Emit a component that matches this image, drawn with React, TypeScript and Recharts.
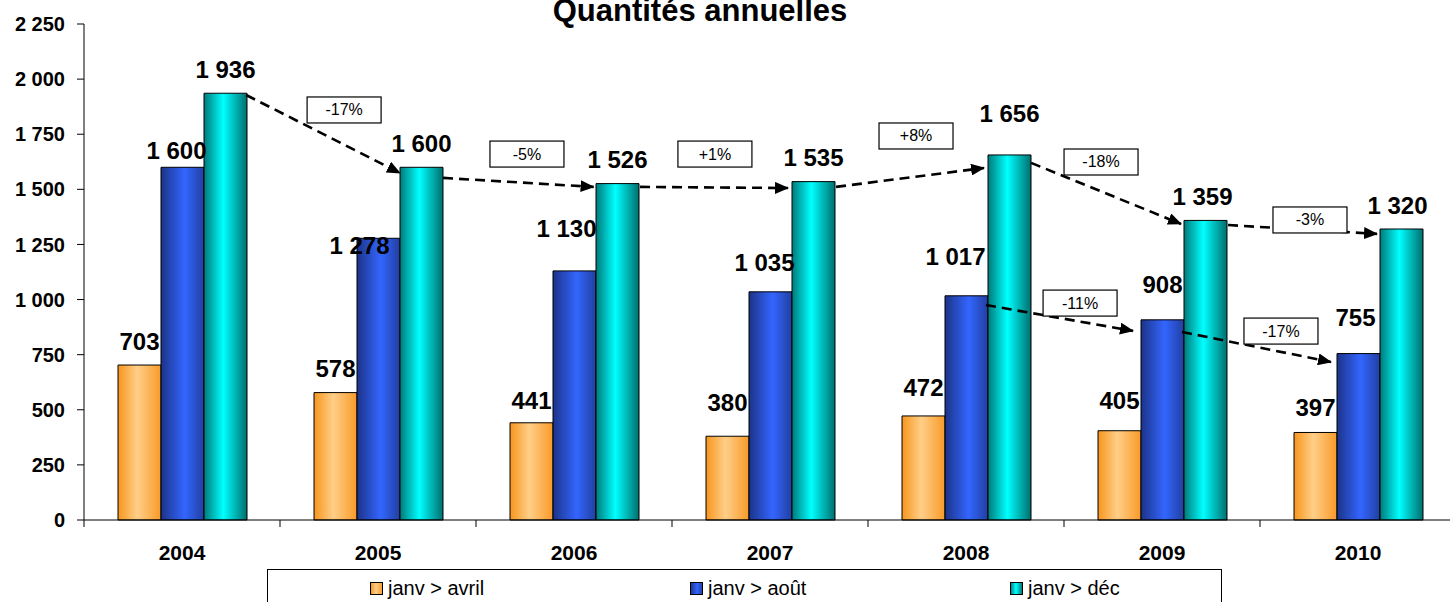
import { BarChart, Bar, XAxis, YAxis, Legend, LabelList, ReferenceLine, ScatterChart, Scatter } from 'recharts';

const years = ['2004', '2005', '2006', '2007', '2008', '2009', '2010'];
const janvAvril = [703, 578, 441, 380, 472, 405, 397];
const janvAout = [1600, 1278, 1130, 1035, 1017, 908, 755];
const janvDec = [1936, 1600, 1526, 1535, 1656, 1359, 1320];
const yTicks = [0, 250, 500, 750, 1000, 1250, 1500, 1750, 2000, 2250];

// label nudges (px) for the value labels, as hand-placed in the original
const avrilNudge = [[0, 0], [0, 0], [0, 2], [0, -10], [0, -4], [0, -6], [0, -1]];
const aoutNudge = [[-6, 7], [-19, 31], [-8, -18], [-6, -5], [-11, -15], [0, -11], [-3, -12]];
const decNudge = [[0, 0], [0, 0], [0, 0], [0, 0], [0, -17], [-3, 0], [-4, 0]];

// evolution arrows, in data units (x = position along the year axis, 0..7)
const arrows = [
  { x1: 0.827, y1: 1928, x2: 1.612, y2: 1574 },
  { x1: 1.832, y1: 1552, x2: 2.6, y2: 1511 },
  { x1: 2.837, y1: 1511, x2: 3.592, y2: 1506 },
  { x1: 3.837, y1: 1511, x2: 4.592, y2: 1597 },
  { x1: 4.832, y1: 1620, x2: 5.597, y2: 1343 },
  { x1: 5.837, y1: 1338, x2: 6.597, y2: 1298 },
  { x1: 4.602, y1: 975, x2: 5.352, y2: 858 },
  { x1: 5.602, y1: 853, x2: 6.362, y2: 717 },
];
const changeLabels = ['-17%', '-5%', '+1%', '+8%', '-18%', '-3%', '-11%', '-17%'];
const changeX = [1.327, 2.26, 3.219, 4.245, 5.189, 6.255, 5.082, 6.107];
const changeY = [1860, 1660, 1660, 1742, 1624, 1361, 984, 857];

const data = years.map((year, i) => ({
  year,
  avril: janvAvril[i],
  aout: janvAout[i],
  dec: janvDec[i],
}));

const boxes = changeLabels.map((label, i) => ({ label, x: changeX[i], y: changeY[i] }));

const series = [
  { key: 'avril', name: 'janv > avril', fill: 'url(#gOrange)', nudge: avrilNudge },
  { key: 'aout', name: 'janv > août', fill: 'url(#gBlue)', nudge: aoutNudge },
  { key: 'dec', name: 'janv > déc', fill: 'url(#gCyan)', nudge: decNudge },
];

const FONT = '"Liberation Sans", Arial, sans-serif';
const W = 1460;
const H = 602;
const MARGIN = { top: 24, right: 4, left: 0, bottom: 52 };

const fmt = (v: number) => {
  if (v < 1000) return String(v);
  return `${Math.floor(v / 1000)} ${String(v % 1000).padStart(3, '0')}`;
};

function YearTick(props: any) {
  const { x, y, payload } = props;
  const off = payload.offset ?? 0;
  return (
    <g>
      <line x1={x - off} x2={x - off} y1={y} y2={y + 7} stroke="#000" />
      <text x={x} y={y + 40} textAnchor="middle" fontFamily={FONT} fontWeight="bold" fontSize={21} fill="#000">
        {payload.value}
      </text>
    </g>
  );
}

function makeValueLabel(nudge: number[][]) {
  return (props: any) => {
    const { x, y, width, value, index } = props;
    const [dx, dy] = nudge[index] || [0, 0];
    return (
      <text
        x={x + width / 2 + dx}
        y={y - 24 + dy + 8.5}
        textAnchor="middle"
        fontFamily={FONT}
        fontWeight="bold"
        fontSize={24}
        fill="#000"
      >
        {fmt(value)}
      </text>
    );
  };
}

function ChangeBox(props: any) {
  const { cx, cy, payload } = props;
  return (
    <g>
      <rect x={cx - 37} y={cy - 13} width={74} height={26} fill="#fff" stroke="#000" strokeWidth={1.2} />
      <text x={cx} y={cy + 5.5} textAnchor="middle" fontFamily={FONT} fontSize={16} fill="#000">
        {payload.label}
      </text>
    </g>
  );
}

function DashedArrow(props: any) {
  const { x1, y1, x2, y2 } = props;
  return (
    <line
      x1={x1}
      y1={y1}
      x2={x2}
      y2={y2}
      stroke="#000"
      strokeWidth={2.6}
      strokeDasharray="10 6"
      markerEnd="url(#arrowHead)"
    />
  );
}

function LegendBox() {
  const lefts = [102, 422, 742];
  return (
    <div
      style={{
        position: 'relative',
        width: 955,
        height: 44,
        border: '1px solid #000',
        boxSizing: 'border-box',
        background: '#fff',
        fontFamily: FONT,
        fontSize: 20,
        color: '#000',
      }}
    >
      {series.map((s, i) => (
        <div
          key={s.key}
          style={{ position: 'absolute', left: lefts[i], top: 6, display: 'flex', alignItems: 'center', lineHeight: '24px', whiteSpace: 'nowrap' }}
        >
          <svg width={13} height={13} style={{ marginRight: 5 }}>
            <rect x={0.5} y={0.5} width={12} height={12} fill={s.fill} stroke="#000" />
          </svg>
          <span>{s.name}</span>
        </div>
      ))}
    </div>
  );
}

export default function App() {
  return (
    <div style={{ position: 'absolute', left: 0, top: 0, width: 1450, height: 602, overflow: 'hidden', background: '#fff' }}>
      <svg width={1450} height={40} style={{ position: 'absolute', left: 0, top: 0, zIndex: 2, pointerEvents: 'none' }}>
        <defs>
          <linearGradient id="gOrange" x1="0" y1="0" x2="1" y2="0">
            <stop offset="0%" stopColor="#F7961C" />
            <stop offset="45%" stopColor="#FFCE88" />
            <stop offset="100%" stopColor="#F89A28" />
          </linearGradient>
          <linearGradient id="gBlue" x1="0" y1="0" x2="1" y2="0">
            <stop offset="0%" stopColor="#1C3388" />
            <stop offset="55%" stopColor="#3366FF" />
            <stop offset="100%" stopColor="#223FA0" />
          </linearGradient>
          <linearGradient id="gCyan" x1="0" y1="0" x2="1" y2="0">
            <stop offset="0%" stopColor="#007A7A" />
            <stop offset="45%" stopColor="#00FFFF" />
            <stop offset="100%" stopColor="#006E6E" />
          </linearGradient>
          <marker id="arrowHead" markerUnits="userSpaceOnUse" markerWidth={14} markerHeight={12} viewBox="0 0 14 12" refX={13} refY={6} orient="auto">
            <path d="M0,0 L14,6 L0,12 z" fill="#000" />
          </marker>
        </defs>
        <text x={700} y={21} textAnchor="middle" fontFamily={FONT} fontWeight="bold" fontSize={31} fill="#000">
          Quantités annuelles
        </text>
      </svg>
      <BarChart width={W} height={H} data={data} margin={MARGIN} barSize={43} barGap={0}>
        <XAxis
          dataKey="year"
          height={30}
          stroke="#000"
          tickLine={false}
          tickSize={0}
          tickMargin={0}
          interval={0}
          tick={<YearTick />}
        />
        <YAxis
          width={84}
          domain={[0, 2250]}
          ticks={yTicks}
          interval={0}
          stroke="#000"
          tickSize={7}
          tickMargin={12}
          tickFormatter={fmt}
          tick={{ fill: '#000', fontSize: 20, fontWeight: 'bold', fontFamily: FONT }}
        />
        <Legend
          layout="horizontal"
          verticalAlign="middle"
          align="center"
          wrapperStyle={{ top: 569, left: 267, width: 955, height: 44 }}
          content={() => <LegendBox />}
        />
        {series.map((s) => (
          <Bar key={s.key} dataKey={s.key} name={s.name} fill={s.fill} stroke="#000" strokeWidth={1} isAnimationActive={false}>
            <LabelList dataKey={s.key} content={makeValueLabel(s.nudge)} />
          </Bar>
        ))}
      </BarChart>
      {/* annotation layer: same plot area, linear x over the 7 year slots */}
      <div style={{ position: 'absolute', left: 0, top: 0, pointerEvents: 'none' }}>
        <ScatterChart
          width={W}
          height={H}
          margin={{ top: MARGIN.top, right: MARGIN.right, left: MARGIN.left + 84, bottom: MARGIN.bottom + 30 }}
        >
          <XAxis type="number" dataKey="x" domain={[0, 7]} allowDataOverflow hide />
          <YAxis type="number" dataKey="y" domain={[0, 2250]} allowDataOverflow hide />
          {arrows.map((a, i) => (
            <ReferenceLine
              key={`arrow-${i}`}
              segment={[{ x: a.x1, y: a.y1 }, { x: a.x2, y: a.y2 }]}
              shape={DashedArrow}
            />
          ))}
          <Scatter data={boxes} shape={ChangeBox} isAnimationActive={false} />
        </ScatterChart>
      </div>
    </div>
  );
}
